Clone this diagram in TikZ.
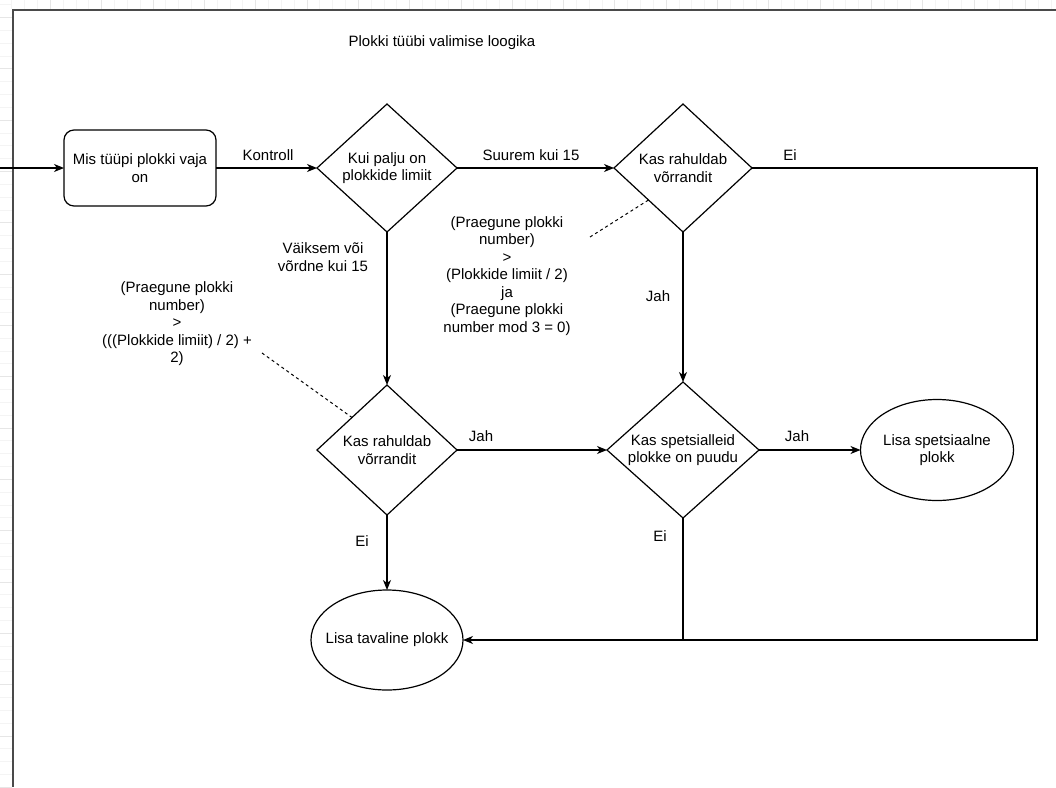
\documentclass[tikz,border=0pt]{standalone}
\usepackage{fontspec}
\setmainfont{Liberation Sans}
\usetikzlibrary{shapes.geometric,arrows.meta,calc}

\definecolor{gridminor}{HTML}{F4F4F4}
\definecolor{gridmajor}{HTML}{E6E6E6}
\definecolor{framecol}{HTML}{4A4A4A}

\begin{document}
\begin{tikzpicture}[x=1pt,y=-1pt,
  every node/.style={font=\fontsize{15}{17.5}\selectfont, inner sep=0pt, outer sep=0pt},
  txt/.style={align=center},
  outline/.style={draw=black, line width=1.2pt},
  decision/.style={diamond, outline},
  terminal/.style={ellipse, outline},
  process/.style={rectangle, rounded corners=10pt, outline},
  flow/.style={line width=1.2pt, -{Stealth[length=10pt,width=8pt,inset=3pt]}},
  plainflow/.style={line width=1.2pt},
  noteline/.style={line width=1pt, dash pattern=on 3pt off 3pt},
  minorgrid/.style={draw=gridminor, line width=0.7pt},
  majorgrid/.style={draw=gridmajor, line width=0.7pt},
]
\useasboundingbox (0,0) rectangle (1056,787);
\fill[white] (0,0) rectangle (1056,787);

% faint page grid visible in the margins
\foreach \k in {0,...,61}{\draw[minorgrid] (0,{4.6+\k*12.83}) -- (12,{4.6+\k*12.83});}
\foreach \k in {0,...,15}{\draw[majorgrid] (0,{17.4+\k*51.32}) -- (12,{17.4+\k*51.32});}
\foreach \k in {0,...,81}{\draw[minorgrid] ({11.8+\k*12.83},0) -- ({11.8+\k*12.83},9);}
\foreach \k in {0,...,19}{\draw[majorgrid] ({50.3+\k*51.32},0) -- ({50.3+\k*51.32},9);}

% page frame
\draw[framecol, line width=1.4pt] (13,787) -- (13,10) -- (1056,10);

% title
\node[txt] (title) at (442,43) {Plokki tüübi valimise loogika};

% shapes
\node[process, minimum width=152, minimum height=76] (start) at (140,168) {};
\node[txt] (startt) at (start.center) {Mis tüüpi plokki vaja\\on};

\node[decision, minimum width=140, minimum height=128] (limit) at (387,168) {};
\node[txt] (limitt) at (limit.center) {Kui palju on\\plokkide limiit};

\node[decision, minimum width=138, minimum height=128] (eqbig) at (683,168) {};
\node[txt] (eqbigt) at (eqbig.center) {Kas rahuldab\\võrrandit};

\node[decision, minimum width=140, minimum height=130] (eqsmall) at (387,450) {};
\node[txt] (eqsmallt) at (eqsmall.center) {Kas rahuldab\\võrrandit};

\node[decision, minimum width=152, minimum height=136] (missing) at (683,450) {};
\node[txt] (missingt) at (missing.center) {Kas spetsialleid\\plokke on puudu};

\node[terminal, minimum width=153, minimum height=101] (special) at (937,450) {};
\node[txt] (specialt) at (special.center) {Lisa spetsiaalne\\plokk};

\node[terminal, minimum width=152, minimum height=100] (normal) at (387,640) {};
\node[txt] (normalt) at (normal.center) {Lisa tavaline plokk};

% annotations
\node[txt] (note1) at (507,276) {(Praegune plokki\\number)\\>\\(Plokkide limiit / 2)\\ja\\(Praegune plokki\\number mod 3 = 0)};
\node[txt] (note2) at (177,324) {(Praegune plokki\\number)\\>\\(((Plokkide limiit) / 2) +\\2)};

\coordinate (entry) at (0,168);
\coordinate (note1end) at (590,237);
\coordinate (note2end) at (262,353);
\coordinate (rightturn) at (1037,168);

% connectors
\draw[flow] (entry) -- (start.west);
\draw[flow] (start.east) -- (limit.west);
\draw[flow] (limit.east) -- (eqbig.west);
\draw[flow] (limit.south) -- (eqsmall.north);
\draw[flow] (eqbig.south) -- (missing.north);
\draw[flow] (eqsmall.east) -- (missing.west);
\draw[flow] (missing.east) -- (special.west);
\draw[flow] (eqsmall.south) -- (normal.north);
\draw[flow] (eqbig.east) -- (rightturn) |- (normal.east);
\draw[plainflow] (missing.south) -- (missing.south |- normal.east);

\draw[noteline] (note1end) -- (eqbig.south west);
\draw[noteline] (note2end) -- (eqsmall.north west);

% connector labels
\node (lkontroll) at (268,155) {Kontroll};
\node (lsuurem) at (531,155) {Suurem kui 15};
\node[txt] (lvaiksem) at (323,257) {Väiksem või\\võrdne kui 15};
\node (leitop) at (790,155) {Ei};
\node (ljahtop) at (658,296) {Jah};
\node (ljahmid) at (481,436) {Jah};
\node (ljahright) at (797,436) {Jah};
\node (leileft) at (362,541) {Ei};
\node (leiright) at (660,536) {Ei};
\end{tikzpicture}
\end{document}
